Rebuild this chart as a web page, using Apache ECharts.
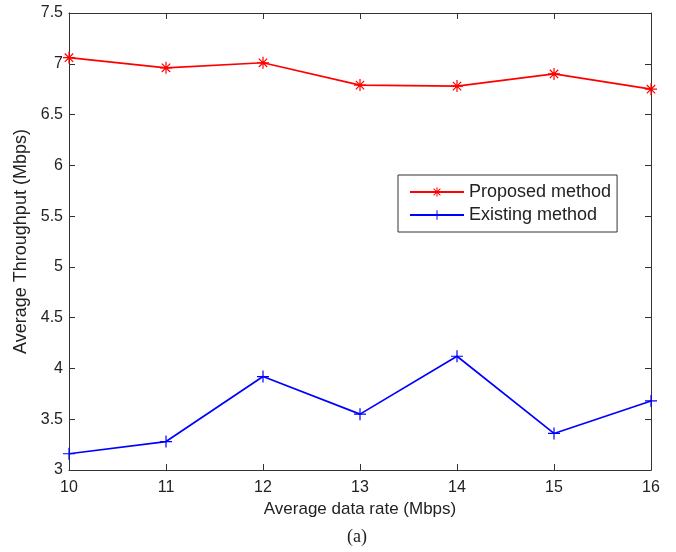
<!DOCTYPE html>
<html><head><meta charset="utf-8">
<script src="https://cdn.jsdelivr.net/npm/echarts@6/dist/echarts.min.js"></script>
<style>html,body{margin:0;padding:0;background:#fff}#c{width:676px;height:552px}</style>
</head><body><div id="c"></div>
<script>
const dataRates = [10, 11, 12, 13, 14, 15, 16];
const proposed = [7.06, 6.96, 7.01, 6.79, 6.78, 6.90, 6.75];
const existing = [3.16, 3.28, 3.92, 3.55, 4.12, 3.36, 3.68];
const seriesNames = ['Proposed method', 'Existing method'];

const plusPath = 'path://M9,0L11,0L11,20L9,20Z M0,9L20,9L20,11L0,11Z';
const starPath = 'path://M9,0L11,0L11,20L9,20Z M0,9L20,9L20,11L0,11Z M3.7,2.3L17.7,16.3L16.3,17.7L2.3,3.7Z M16.3,2.3L17.7,3.7L3.7,17.7L2.3,16.3Z';

const font = 'Liberation Sans, Arial, sans-serif';
const axisCommon = {
  axisLine: {show: true, lineStyle: {color: '#333', width: 1}},
  axisTick: {show: true, inside: true, length: 6, lineStyle: {color: '#333'}},
  splitLine: {show: false}
};
const chart = echarts.init(document.getElementById('c'));
chart.setOption({
  animation: false,
  backgroundColor: '#fff',
  grid: {left: 69, right: 25, top: 13, bottom: 82},
  xAxis: [
    Object.assign({type: 'value', min: 10, max: 16, interval: 1, position: 'bottom',
      name: 'Average data rate (Mbps)', nameLocation: 'middle', nameGap: 30,
      nameTextStyle: {fontFamily: font, fontSize: 17, color: '#222'},
      axisLabel: {fontFamily: font, fontSize: 16, color: '#222', margin: 10}}, axisCommon),
    Object.assign({type: 'value', min: 10, max: 16, interval: 1, position: 'top',
      axisLabel: {show: false}}, axisCommon)
  ],
  yAxis: [
    Object.assign({type: 'value', min: 3, max: 7.5, interval: 0.5, position: 'left',
      name: 'Average Throughput (Mbps)', nameLocation: 'middle', nameGap: 38,
      nameTextStyle: {fontFamily: font, fontSize: 18, color: '#222'},
      axisLabel: {fontFamily: font, fontSize: 16, color: '#222', margin: 6}}, axisCommon),
    Object.assign({type: 'value', min: 3, max: 7.5, interval: 0.5, position: 'right',
      axisLabel: {show: false}}, axisCommon)
  ],
  legend: {
    left: 398, top: 175,
    orient: 'vertical',
    backgroundColor: '#fff', borderColor: '#333', borderWidth: 1,
    padding: [8, 6, 8, 11],
    itemWidth: 54, itemHeight: 12, itemGap: 5,
    textStyle: {fontFamily: font, fontSize: 18, lineHeight: 18, color: '#222'},
    data: seriesNames
  },
  series: [
    {name: seriesNames[0], type: 'line', data: dataRates.map((x, i) => [x, proposed[i]]),
      symbol: starPath, symbolSize: 12, showAllSymbol: true,
      lineStyle: {color: '#ff0000', width: 1.7}, itemStyle: {color: '#ff0000'}},
    {name: seriesNames[1], type: 'line', data: dataRates.map((x, i) => [x, existing[i]]),
      symbol: plusPath, symbolSize: 12, showAllSymbol: true,
      lineStyle: {color: '#0000ff', width: 1.7}, itemStyle: {color: '#0000ff'}}
  ],
  graphic: [{type: 'text', x: 357, y: 537,
    style: {text: '(a)', font: '18px "Liberation Serif", "Times New Roman", serif', fill: '#222',
      textAlign: 'center', textVerticalAlign: 'middle'}}]
});
</script></body></html>
